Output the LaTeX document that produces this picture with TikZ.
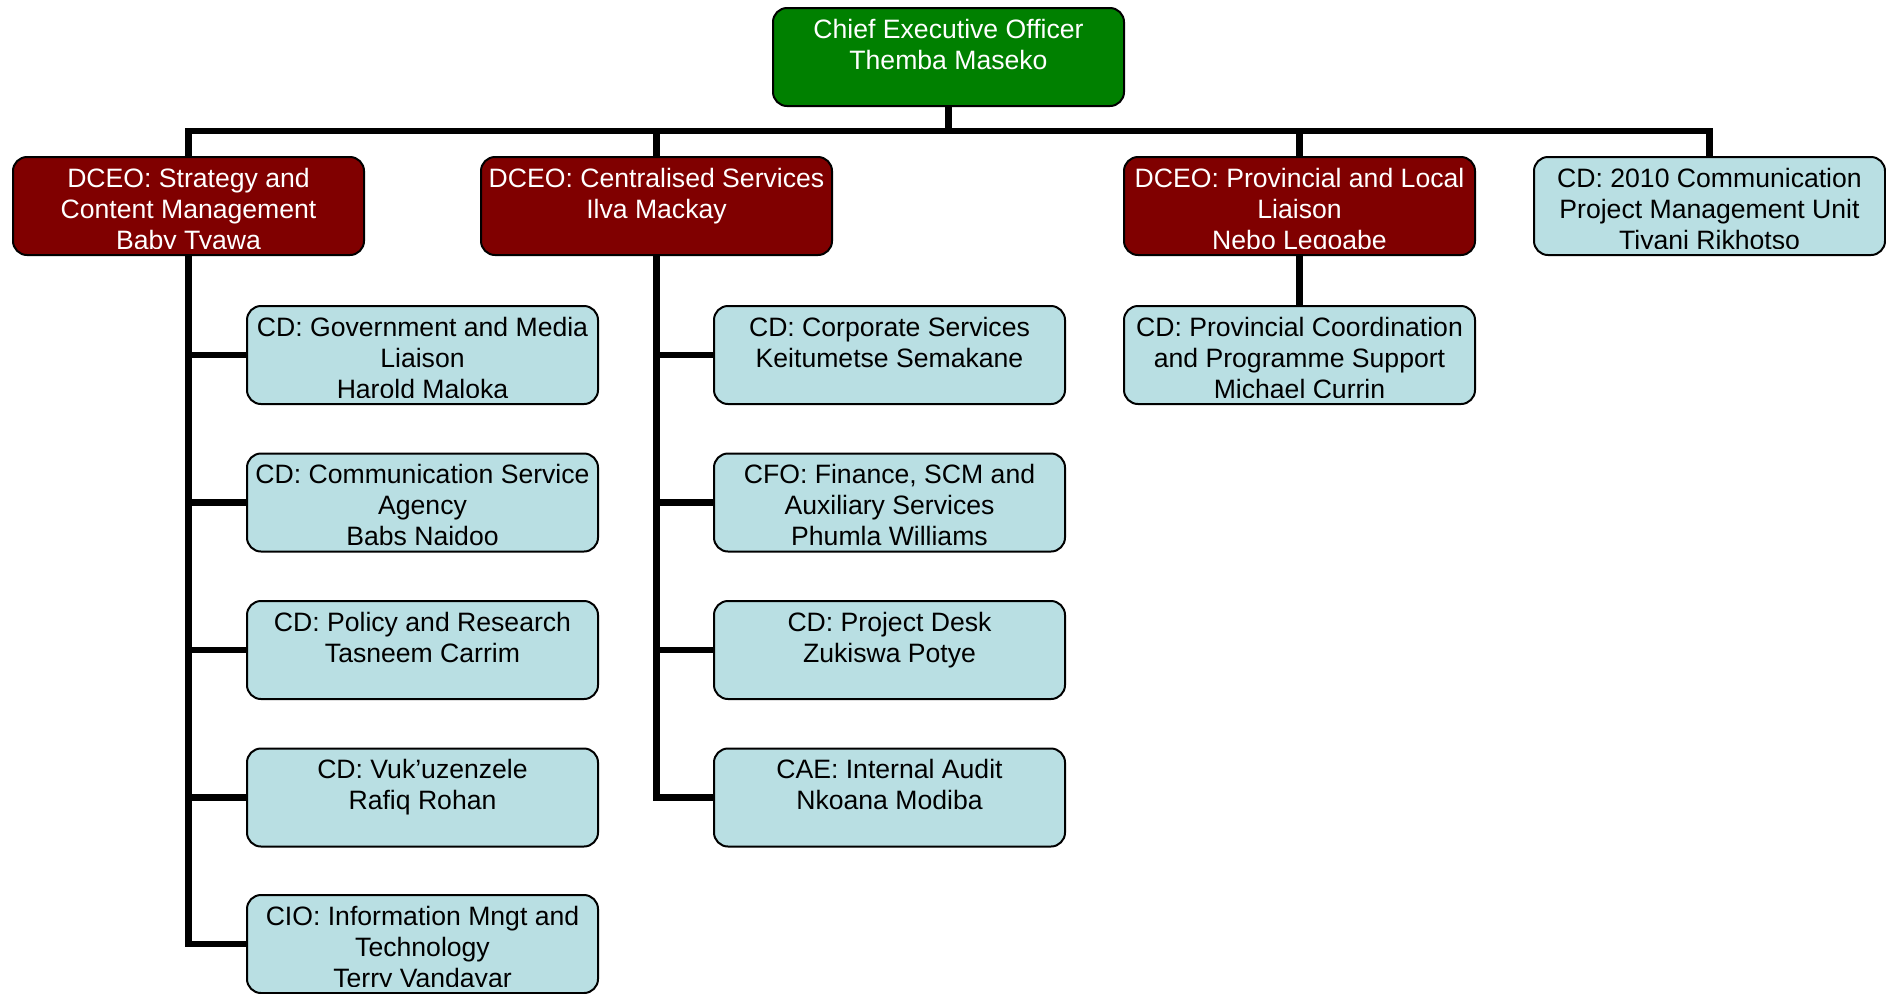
\documentclass[tikz,border=0pt]{standalone}
\usepackage{fontspec}
\setmainfont{Liberation Sans}
\definecolor{ceogreen}{HTML}{008000}
\definecolor{dceored}{HTML}{800000}
\definecolor{cdblue}{HTML}{B9DFE3}
\tikzset{
  orgbox/.style={draw=black, line width=1pt, rounded corners=7pt,
    minimum width=175.5pt, minimum height=49pt, inner sep=0pt, anchor=north west},
  boxtext/.style={anchor=north, inner sep=0pt, align=center, draw=none, fill=none,
    minimum width=0pt, minimum height=0pt,
    font=\fontsize{13.3pt}{15.5pt}\selectfont},
  conn/.style={draw=black, line width=3.4pt}
}
\newcommand\orgnode[6]{%
  \node[orgbox, fill=#4, path picture={%
    \clip ([yshift=3.2pt]path picture bounding box.south west) rectangle (path picture bounding box.north east);
    \node[boxtext, text=#5] at ([yshift=-3.95pt]path picture bounding box.north) {\rule{0pt}{10.56pt}#6};}] (#1) at (#2,#3) {};}
\begin{document}
\begin{tikzpicture}[x=0.5pt,y=-0.5pt]
\useasboundingbox (0,0) rectangle (1886,993);
\orgnode{ceo}{772}{7}{ceogreen}{white}{Chief Executive Officer\\Themba Maseko}
\orgnode{d1}{12}{156}{dceored}{white}{DCEO: Strategy and\\Content Management\\Baby Tyawa}
\orgnode{d2}{480}{156}{dceored}{white}{DCEO: Centralised Services\\Ilva Mackay}
\orgnode{d3}{1123}{156}{dceored}{white}{DCEO: Provincial and Local\\Liaison\\Nebo Legoabe}
\orgnode{d4}{1533}{156}{cdblue}{black}{CD: 2010 Communication\\Project Management Unit\\Tiyani Rikhotso}
\orgnode{a1}{246}{305}{cdblue}{black}{CD: Government and Media\\Liaison\\Harold Maloka}
\orgnode{a2}{246}{452.5}{cdblue}{black}{CD: Communication Service\\Agency\\Babs Naidoo}
\orgnode{a3}{246}{600}{cdblue}{black}{CD: Policy and Research\\Tasneem Carrim}
\orgnode{a4}{246}{747.5}{cdblue}{black}{CD: Vuk’uzenzele\\Rafiq Rohan}
\orgnode{a5}{246}{894}{cdblue}{black}{CIO: Information Mngt and\\Technology\\Terry Vandayar}
\orgnode{b1}{713}{305}{cdblue}{black}{CD: Corporate Services\\Keitumetse Semakane}
\orgnode{b2}{713}{452.5}{cdblue}{black}{CFO: Finance, SCM and\\Auxiliary Services\\Phumla Williams}
\orgnode{b3}{713}{600}{cdblue}{black}{CD: Project Desk\\Zukiswa Potye}
\orgnode{b4}{713}{747.5}{cdblue}{black}{CAE: Internal Audit\\Nkoana Modiba}
\orgnode{c1}{1123}{305}{cdblue}{black}{CD: Provincial Coordination\\and Programme Support\\Michael Currin}
\coordinate (bus) at (947,131);
\draw[conn] (d1.north) -- (d1.north |- bus) -- (d4.north |- bus) -- (d4.north);
\draw[conn] (ceo.south) -- (ceo.south |- bus);
\draw[conn] (d2.north) -- (d2.north |- bus);
\draw[conn] (d3.north) -- (d3.north |- bus);
\draw[conn] (d1.south) -- (d1.south |- a5.west) -- (a5.west);
\foreach \n in {a1,a2,a3,a4} \draw[conn] (\n.west -| d1.south) -- (\n.west);
\draw[conn] (d2.south) -- (d2.south |- b4.west) -- (b4.west);
\foreach \n in {b1,b2,b3} \draw[conn] (\n.west -| d2.south) -- (\n.west);
\draw[conn] (d3.south) -- (c1.north);
\end{tikzpicture}
\end{document}
